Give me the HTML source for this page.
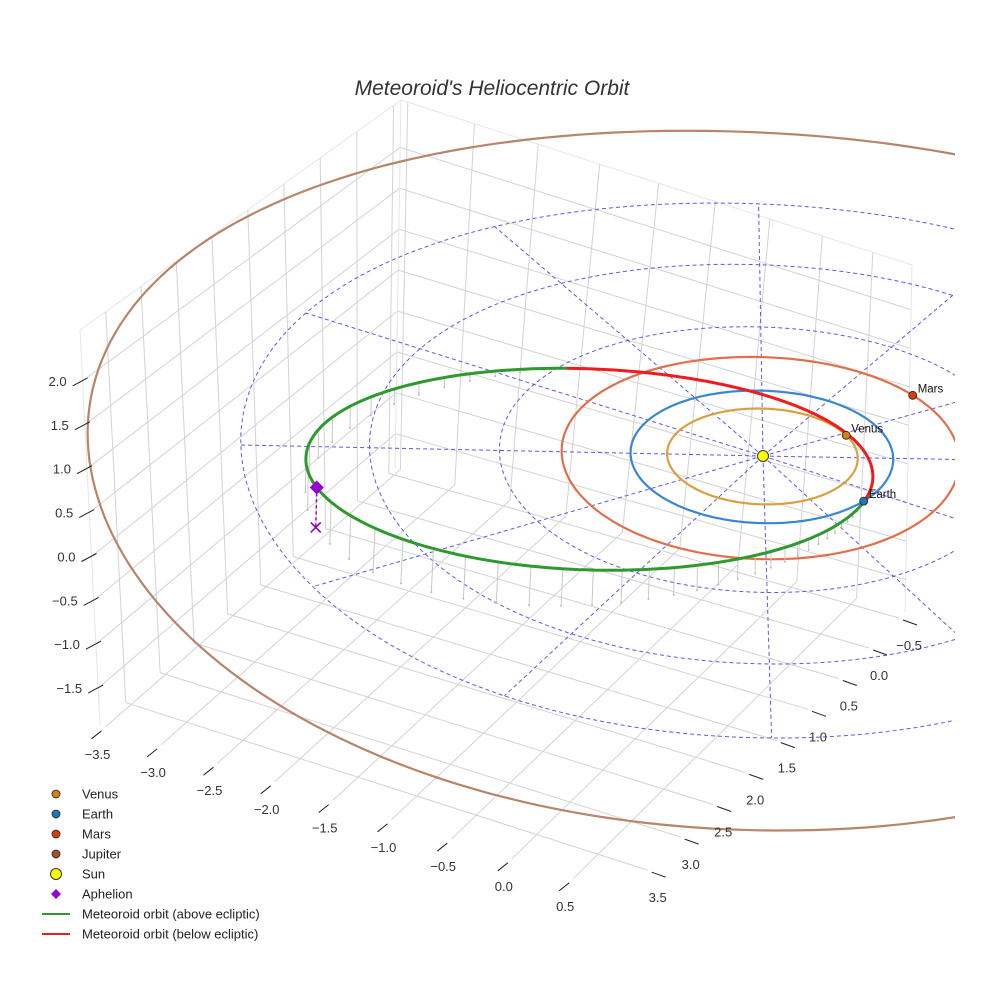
<!DOCTYPE html>
<html><head><meta charset="utf-8">
<style>
html,body{margin:0;padding:0;background:#fff;}
svg{display:block;font-family:"Liberation Sans",sans-serif;}
</style></head>
<body>
<svg id="chart" width="984" height="984" viewBox="0 0 984 984">
<defs><clipPath id="clip"><rect x="0" y="0" width="955" height="984"/></clipPath></defs>
<text x="492" y="95" text-anchor="middle" font-size="21" font-style="italic" fill="#333">Meteoroid's Heliocentric Orbit</text>
<g id="grid"></g>
<g id="plot" clip-path="url(#clip)"></g>
<g id="axes"></g>
<g id="legend"></g>
</svg>
<script>
// ---- data ----
const xTicks = [-3.5,-3.0,-2.5,-2.0,-1.5,-1.0,-0.5,0.0,0.5];
const yTicks = [-0.5,0.0,0.5,1.0,1.5,2.0,2.5,3.0,3.5];
const zTicks = [-1.5,-1.0,-0.5,0.0,0.5,1.0,1.5,2.0];
const planetNames = ["Venus","Earth","Mars","Jupiter"];
const planetRadii = [0.723,1.0,1.524,5.2];
const planetAngles = [-58,10.6,-70,-40];
const planetOrbitColors = ["#d9a040","#3a86d4","#e26f4c","#b8856a"];
const planetMarkerColors = ["#d4801a","#1f77b4","#d43f0a","#a0522d"];
const gridRings = [1,2,3,4];
const gridSpokes = [0,30,60,90,120,150,180,210,240,270,300,330];
const meteorA = 2.231, meteorE = 0.636, meteorIncl = 8, meteorNode = 10, meteorArgPeri = 301;

// ---- projection (perspective homography per z-level) ----
const xmin=-3.55,xmax=0.9,ymin=-0.6,ymax=3.87,zmin=-1.92,zmax=2.58;
const Cb={L:[100,725],F:[623,895],B:[395,468],R:[905,612]};
const Ct={L:[80,330],F:[628,455],B:[401,100],R:[912,265]};
function homog(p0,p1,p2,p3){
  const dx1=p1[0]-p2[0],dx2=p3[0]-p2[0],sx=p0[0]-p1[0]+p2[0]-p3[0];
  const dy1=p1[1]-p2[1],dy2=p3[1]-p2[1],sy=p0[1]-p1[1]+p2[1]-p3[1];
  const den=dx1*dy2-dx2*dy1;
  const g=(sx*dy2-dx2*sy)/den,h=(dx1*sy-sx*dy1)/den;
  const a=p1[0]-p0[0]+g*p1[0],b=p3[0]-p0[0]+h*p3[0],c=p0[0];
  const d=p1[1]-p0[1]+g*p1[1],e=p3[1]-p0[1]+h*p3[1],f=p0[1];
  return (u,v)=>{const w=g*u+h*v+1;return [(a*u+b*v+c)/w,(d*u+e*v+f)/w];};
}
const Hb=homog(Cb.L,Cb.F,Cb.R,Cb.B), Ht=homog(Ct.L,Ct.F,Ct.R,Ct.B);
function P(x,y,z){
  const fx=(x-xmin)/(xmax-xmin), fy=(ymax-y)/(ymax-ymin), fz=(z-zmin)/(zmax-zmin);
  const b=Hb(fx,fy), t=Ht(fx,fy);
  return [b[0]+(t[0]-b[0])*fz, b[1]+(t[1]-b[1])*fz];
}
const P0=P(0,0,0), SUN=[763,456];
function Q(x,y,z){
  const p=P(x,y,z);const dx=p[0]-P0[0], dy=p[1]-P0[1];
  return [SUN[0]+1.03*dx-0.0001115*Math.abs(dx)*dx, SUN[1]+1.056*dy+0.00019*dy*dy];
}
const NS="http://www.w3.org/2000/svg";
function mk(tag,attrs,parent){const e=document.createElementNS(NS,tag);for(const k in attrs)e.setAttribute(k,attrs[k]);parent.appendChild(e);return e;}
function line(p,q,attrs,parent){return mk("line",Object.assign({x1:p[0].toFixed(1),y1:p[1].toFixed(1),x2:q[0].toFixed(1),y2:q[1].toFixed(1)},attrs),parent);}
function pathOf(pts){return pts.map((p,i)=>(i?"L":"M")+p[0].toFixed(1)+","+p[1].toFixed(1)).join("");}

const grid=document.getElementById("grid"), plot=document.getElementById("plot"), axes=document.getElementById("axes"), legend=document.getElementById("legend");
const gs={stroke:"#d3d3d3","stroke-width":1};
xTicks.forEach(x=>{const l=line(P(x,ymin,zmin),P(x,ymax,zmin),gs,grid);

});
yTicks.forEach(y=>{const l=line(P(xmin,y,zmin),P(xmax,y,zmin),gs,grid);

});
yTicks.forEach(y=>{const l=line(P(xmin,y,zmin),P(xmin,y,zmax),gs,grid);

});
zTicks.forEach(z=>{const l=line(P(xmin,ymin,z),P(xmin,ymax,z),gs,grid);

});
xTicks.forEach(x=>{const l=line(P(x,ymin,zmin),P(x,ymin,zmax),gs,grid);

});
zTicks.forEach(z=>{const l=line(P(xmin,ymin,z),P(xmax,ymin,z),gs,grid);

});
const es={stroke:"#e6e6e6","stroke-width":1};
[[P(xmin,ymax,zmax),P(xmin,ymin,zmax)],[P(xmin,ymin,zmax),P(xmax,ymin,zmax)],[P(xmin,ymin,zmin),P(xmin,ymin,zmax)],[P(xmax,ymin,zmin),P(xmax,ymin,zmax)],[P(xmin,ymax,zmin),P(xmin,ymax,zmax)]].forEach(e=>{const l=line(e[0],e[1],es,grid);

});

const ds={stroke:"#5b5bea","stroke-width":1,"stroke-dasharray":"4,3",fill:"none"};
gridRings.forEach(r=>{const pts=[];for(let i=0;i<=180;i++){const a=i/180*2*Math.PI;pts.push(Q(r*Math.cos(a),r*Math.sin(a),0));}
const p=mk("path",Object.assign({d:pathOf(pts)},ds),plot);

});
gridSpokes.forEach(d=>{const a=d*Math.PI/180;const R=gridRings[gridRings.length-1];
const l=line(Q(0,0,0),Q(R*Math.cos(a),R*Math.sin(a),0),ds,plot);

});

planetRadii.forEach((r,k)=>{const pts=[];for(let i=0;i<=240;i++){const a=i/240*2*Math.PI;pts.push(Q(r*Math.cos(a),r*Math.sin(a),0));}
const p=mk("path",{d:pathOf(pts),stroke:planetOrbitColors[k],"stroke-width":2.2,fill:"none"},plot);

});

const d2r=Math.PI/180, ci=Math.cos(meteorIncl*d2r), si=Math.sin(meteorIncl*d2r), cO=Math.cos(meteorNode*d2r), sO=Math.sin(meteorNode*d2r);
function meteor(nu){const r=meteorA*(1-meteorE*meteorE)/(1+meteorE*Math.cos(nu));const u=meteorArgPeri*d2r+nu;
return [r*(cO*Math.cos(u)-sO*Math.sin(u)*ci), r*(sO*Math.cos(u)+cO*Math.sin(u)*ci), r*Math.sin(u)*si];}
const N=360, mpts=[];for(let i=0;i<=N;i++)mpts.push(meteor(i/N*2*Math.PI));
for(let i=0;i<N;i+=4){const q=mpts[i];if(q[2]>0.01){
const l=line(Q(q[0],q[1],q[2]),Q(q[0],q[1],0),{stroke:"#c8c8c8","stroke-width":1},plot);


const f=Q(q[0],q[1],0);
const c=mk("circle",{cx:f[0].toFixed(1),cy:f[1].toFixed(1),r:1,fill:"#bbb"},plot);

}}
let seg=[],above=mpts[0][2]>=0;
function flush(){if(seg.length>1){const p=mk("path",{d:pathOf(seg),stroke:above?"#2e9a2e":"#ee1c1c","stroke-width":3,fill:"none","stroke-linejoin":"round"},plot);

}}
mpts.forEach(q=>{const a=q[2]>=0;const sp=Q(q[0],q[1],q[2]);if(a!==above){seg.push(sp);flush();seg=[sp];above=a;}else seg.push(sp);});
flush();

const ap=meteor(Math.PI), apS=Q(ap[0],ap[1],ap[2]), apG=Q(ap[0],ap[1],0);
const apl=line(apS,apG,{stroke:"#9400d3","stroke-width":1.5,"stroke-dasharray":"3,3"},plot);


const dm=mk("path",{d:`M${apS[0]},${apS[1]-7}L${apS[0]+7},${apS[1]}L${apS[0]},${apS[1]+7}L${apS[0]-7},${apS[1]}Z`,fill:"#9400d3"},plot);


const xm=mk("path",{d:`M${apG[0]-5},${apG[1]-5}L${apG[0]+5},${apG[1]+5}M${apG[0]-5},${apG[1]+5}L${apG[0]+5},${apG[1]-5}`,stroke:"#9400d3","stroke-width":1.6},plot);



planetRadii.forEach((r,k)=>{const a=planetAngles[k]*d2r;const s=Q(r*Math.cos(a),r*Math.sin(a),0);
const c=mk("circle",{cx:s[0].toFixed(1),cy:s[1].toFixed(1),r:4,fill:planetMarkerColors[k],stroke:"#222","stroke-width":0.8},plot);


if(k<3){const t=mk("text",{x:(s[0]+5).toFixed(1),y:(s[1]-3).toFixed(1),"font-size":11.5,fill:"#111"},plot);t.textContent=planetNames[k];

}});
const sun=Q(0,0,0);
const sc=mk("circle",{cx:sun[0],cy:sun[1],r:5.5,fill:"#ffff00",stroke:"#333","stroke-width":1},plot);



const ts={stroke:"#222","stroke-width":1};
xTicks.forEach(x=>{const p=P(x,ymax,zmin);
const l=line([p[0]-4,p[1]+4],[p[0]-14,p[1]+12],ts,axes);


const t=mk("text",{x:(p[0]-8).toFixed(1),y:(p[1]+32).toFixed(1),"text-anchor":"middle","font-size":13,fill:"#333"},axes);t.textContent=x.toFixed(1).replace("-","\u2212");

});
yTicks.forEach(y=>{const p=P(xmax,y,zmin);
const l=line([p[0]+4,p[1]+2],[p[0]+18,p[1]+7],ts,axes);


const t=mk("text",{x:(p[0]+10).toFixed(1),y:(p[1]+32).toFixed(1),"text-anchor":"middle","font-size":13,fill:"#333"},axes);t.textContent=y.toFixed(1).replace("-","\u2212");

});
zTicks.forEach(z=>{const p=P(xmin,ymax,z);
const l=line([p[0]-10,p[1]+5],[p[0]+5,p[1]-3],ts,axes);


const t=mk("text",{x:(p[0]-16).toFixed(1),y:(p[1]+5).toFixed(1),"text-anchor":"end","font-size":13,fill:"#333"},axes);t.textContent=z.toFixed(1).replace("-","\u2212");

});

const legendLabels=["Venus","Earth","Mars","Jupiter","Sun","Aphelion","Meteoroid orbit (above ecliptic)","Meteoroid orbit (below ecliptic)"];
legendLabels.forEach((lab,i)=>{const y=794+i*20;const g=mk("g",{},legend);


if(i<4){mk("circle",{cx:56,cy:y,r:4,fill:planetMarkerColors[i],stroke:"#222","stroke-width":0.8},g);}
else if(i===4){mk("circle",{cx:56,cy:y,r:5.5,fill:"#ffff00",stroke:"#333","stroke-width":1},g);}
else if(i===5){mk("path",{d:`M56,${y-5}L61,${y}L56,${y+5}L51,${y}Z`,fill:"#9400d3"},g);}
else{mk("line",{x1:42,y1:y,x2:70,y2:y,stroke:i===6?"#2e9a2e":"#ee1c1c","stroke-width":2},g);}
const t=mk("text",{x:82,y:y+4.5,"font-size":13,fill:"#222"},g);t.textContent=lab;});
</script>
</body></html>
